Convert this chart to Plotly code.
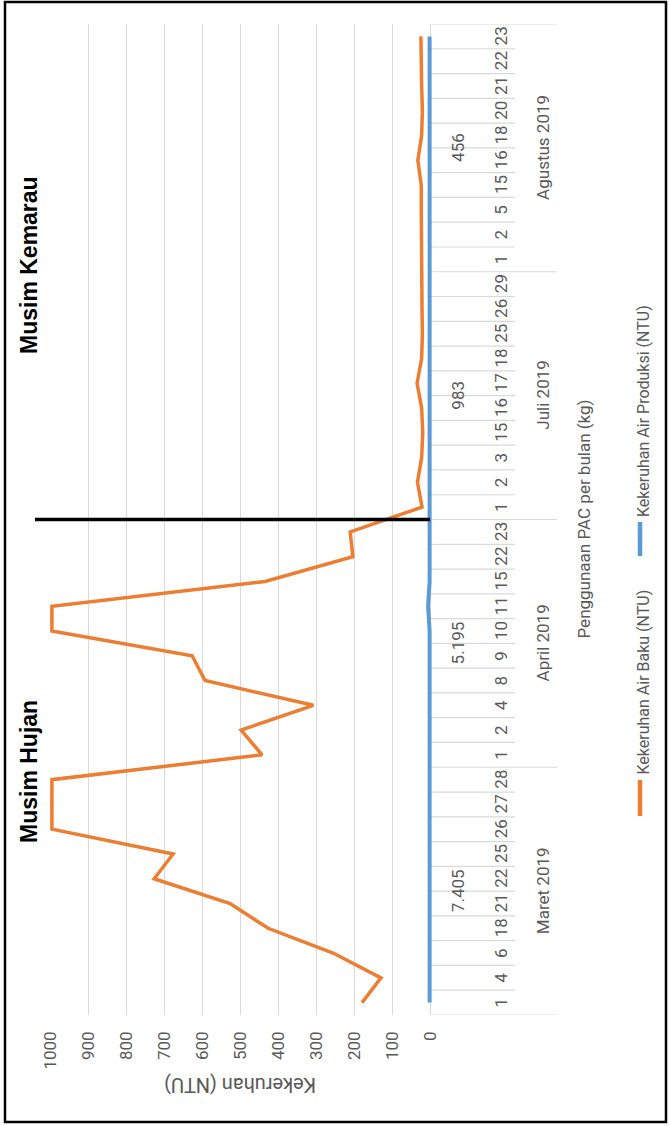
import plotly.graph_objects as go

# ---------------- data ----------------
months = ["Maret 2019", "April 2019", "Juli 2019", "Agustus 2019"]
pac_usage = ["7.405", "5.195", "983", "456"]
days_maret = ["1", "4", "6", "18", "21", "22", "25", "26", "27", "28"]
days_april = ["1", "2", "4", "8", "9", "10", "11", "15", "22", "23"]
days_juli = ["1", "2", "3", "15", "16", "17", "18", "25", "26", "29"]
days_agustus = ["1", "2", "5", "15", "16", "18", "20", "21", "22", "23"]

baku_maret = [179, 129, 255, 426, 526, 726, 676, 995, 995, 995]
baku_april = [442, 497, 307, 592, 626, 995, 995, 434, 203, 210]
baku_juli = [21, 33, 22, 19, 22, 34, 22, 20, 21, 22]
baku_agustus = [22, 22, 23, 23, 32, 22, 20, 22, 24, 24]

prod_maret = [1, 1, 3, 1, 1, 1, 1, 1, 1, 1]
prod_april = [2, 1, 1, 1, 1, 1, 5, 1, 1, 1]
prod_juli = [1, 1, 1, 1, 1, 1, 1, 1, 1, 1]
prod_agustus = [1, 1, 1, 1, 1, 1, 1, 1, 1, 1]

value_ticks = [0, 100, 200, 300, 400, 500, 600, 700, 800, 900, 1000]

series_names = ["Kekeruhan Air Baku (NTU)", "Kekeruhan Air Produksi (NTU)"]
season_labels = ["Musim Hujan", "Musim Kemarau"]

# ---------------- build ----------------
day_groups = [days_maret, days_april, days_juli, days_agustus]
days = [d for g in day_groups for d in g]
baku = baku_maret + baku_april + baku_juli + baku_agustus
prod = prod_maret + prod_april + prod_juli + prod_agustus
idx = list(range(len(days)))

W, H = 670, 1126
ML, MR, MT, MB = 50, 237, 24, 111
PW = W - ML - MR
PH = H - MT - MB
X0_PX = 430                      # pixel where value 0 sits
UNIT = (X0_PX - ML) / 1000.0     # pixels per NTU
X_MIN = -(ML + PW - X0_PX) / UNIT  # small extension so the 0-line is not clipped


def px(x):
    return (x - ML) / PW


def py(y):
    return (H - MB - y) / PH


ORANGE = "#ED7D31"
BLUE = "#5B9BD5"
GRAY = "#595959"
GRID = "#D9D9D9"
FONT = "Roboto, sans-serif"
BOLD = "Liberation Sans, Arial, sans-serif"

fig = go.Figure()
fig.add_trace(go.Scatter(x=baku, y=idx, mode="lines", name=series_names[0],
                         line=dict(color=ORANGE, width=3.5), showlegend=False))
fig.add_trace(go.Scatter(x=prod, y=idx, mode="lines", name=series_names[1],
                         line=dict(color=BLUE, width=4), showlegend=False))

shapes = []
annotations = []

# category boundaries / multi-level separators
starts = []
s = 0
for g in day_groups:
    starts.append(s)
    s += len(g)
month_bounds = set(starts + [len(days)])
for b in range(len(days) + 1):
    x_end = 557 if b in month_bounds else 515
    shapes.append(dict(type="line", xref="paper", yref="y",
                       x0=px(X0_PX), x1=px(x_end), y0=b - 0.5, y1=b - 0.5,
                       line=dict(color=GRID, width=1.2), layer="below"))

# day labels
for i, d in enumerate(days):
    annotations.append(dict(x=px(501), y=i, xref="paper", yref="y", text=d,
                            textangle=-90, showarrow=False, xanchor="center",
                            yanchor="middle", font=dict(family=FONT, size=17, color=GRAY)))
# PAC and month labels
for k, g in enumerate(day_groups):
    mid = starts[k] + (len(g) - 1) / 2
    annotations.append(dict(x=px(458), y=mid, xref="paper", yref="y", text=pac_usage[k],
                            textangle=-90, showarrow=False, xanchor="center",
                            yanchor="middle", font=dict(family=FONT, size=17, color=GRAY)))
    annotations.append(dict(x=px(543), y=mid, xref="paper", yref="y", text=months[k],
                            textangle=-90, showarrow=False, xanchor="center",
                            yanchor="middle", font=dict(family=FONT, size=17, color=GRAY)))

# category axis title
annotations.append(dict(x=px(583), y=0.5, xref="paper", yref="paper",
                        text="Penggunaan PAC per bulan (kg)", textangle=-90, showarrow=False,
                        xanchor="center", yanchor="middle",
                        font=dict(family=FONT, size=17, color=GRAY)))
# value axis title (upside down)
annotations.append(dict(x=px((ML + X0_PX) / 2), y=py(1085), xref="paper", yref="paper",
                        text="Kekeruhan (NTU)", textangle=180, showarrow=False,
                        xanchor="center", yanchor="middle",
                        font=dict(family=FONT, size=20, color=GRAY)))

# season separator line (between April and Juli)
sep = starts[2] - 0.5
shapes.append(dict(type="line", xref="paper", yref="y", x0=px(X0_PX), x1=px(35),
                   y0=sep, y1=sep, line=dict(color="black", width=3.5)))

# season labels
annotations.append(dict(x=px(29), y=py(772), xref="paper", yref="paper", text="<b>%s</b>" % season_labels[0],
                        textangle=-90, showarrow=False, xanchor="center", yanchor="middle",
                        font=dict(family=BOLD, size=23, color="black")))
annotations.append(dict(x=px(29), y=py(265), xref="paper", yref="paper", text="<b>%s</b>" % season_labels[1],
                        textangle=-90, showarrow=False, xanchor="center", yanchor="middle",
                        font=dict(family=BOLD, size=23, color="black")))

# manual rotated legend
legend_items = [(series_names[1], BLUE, 556, 522), (series_names[0], ORANGE, 816, 780)]
for name, col, y_lo, y_hi in legend_items:
    shapes.append(dict(type="line", xref="paper", yref="paper", x0=px(640), x1=px(640),
                       y0=py(y_lo), y1=py(y_hi), line=dict(color=col, width=4.5)))
    annotations.append(dict(x=px(643), y=py(y_hi - 3), xref="paper", yref="paper", text=name,
                            textangle=-90, showarrow=False, xanchor="center", yanchor="bottom",
                            font=dict(family=FONT, size=16, color=GRAY)))

# outer frame
shapes.append(dict(type="rect", xref="paper", yref="paper", x0=px(5), x1=px(666),
                   y0=py(1122), y1=py(2), line=dict(color="black", width=2.5)))

fig.update_layout(
    width=W, height=H,
    margin=dict(l=ML, r=MR, t=MT, b=MB, pad=0),
    paper_bgcolor="white", plot_bgcolor="white",
    shapes=shapes, annotations=annotations,
    xaxis=dict(range=[1000, X_MIN], tickvals=value_ticks, tickangle=-90,
               showgrid=True, gridcolor=GRID, gridwidth=1.2, zeroline=False,
               showline=False, ticks="", ticklabelstandoff=12,
               tickfont=dict(family=FONT, size=17, color=GRAY)),
    yaxis=dict(range=[-0.5, len(days) - 0.5], showgrid=False, zeroline=False,
               showticklabels=False, showline=False, ticks=""),
)

fig.write_html("out.html")
